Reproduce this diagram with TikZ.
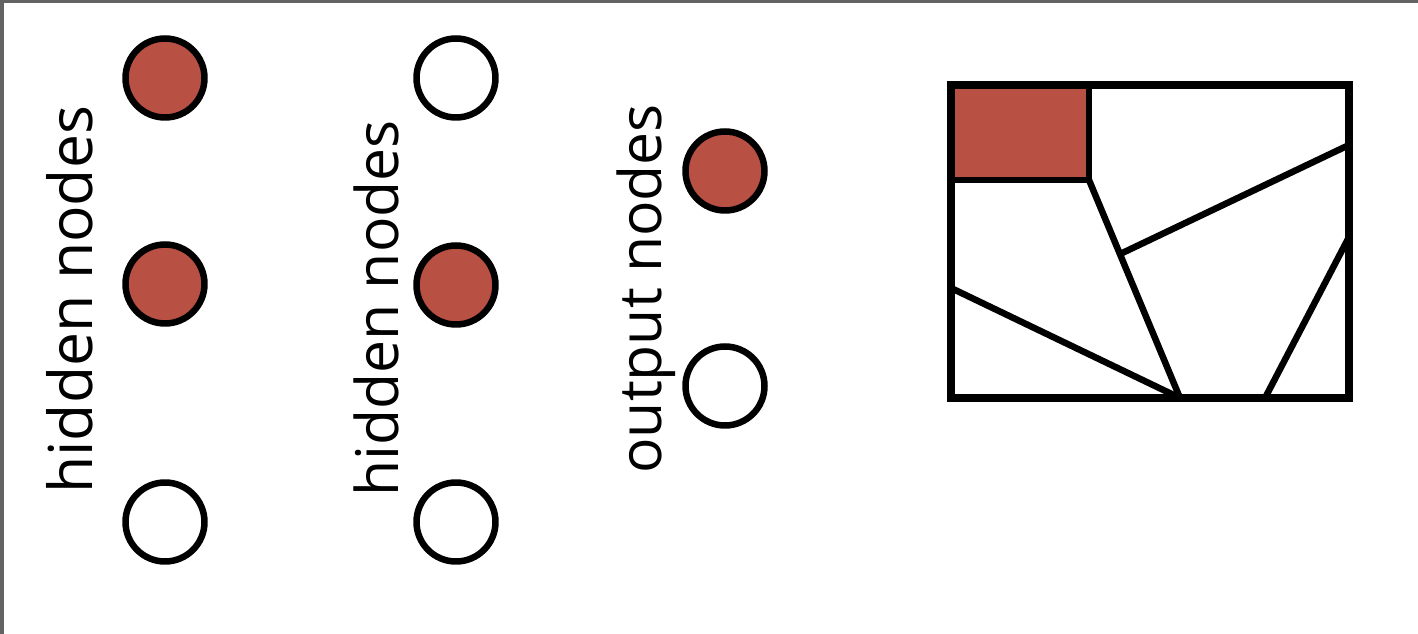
\documentclass[tikz,border=0pt]{standalone}
\usepackage{fontspec}
\setmainfont{Open Sans}
\usetikzlibrary{calc}
\definecolor{nodered}{RGB}{185,80,68}
\definecolor{framegray}{RGB}{99,99,99}
\tikzset{
  unit/.style={circle,draw,line width=0.13cm,minimum size=1.58cm,inner sep=0pt},
  active/.style={unit,fill=nodered},
  layerlabel/.style={rotate=90,anchor=base west,inner sep=0pt},
  cut/.style={line width=0.13cm},
  border/.style={line width=0.15cm},
}

\begin{document}
\begin{tikzpicture}[x=0.02cm,y=-0.02cm]
                \useasboundingbox (0,0) rectangle (1418,634);
                \fill[framegray] (0,0) rectangle (1418,3);
                \fill[framegray] (0,0) rectangle (4,634);
                % first hidden layer
                \node[active] (hA1) at (165,78) {};
                \node[active] (hA2) at (165,284) {};
                \node[unit] (hA3) at (165,522) {};
                \node[layerlabel,font=\fontsize{34.5}{40}\selectfont] (hAlabel) at (92,494) {hidden nodes};
                % second hidden layer
                \node[unit] (hB1) at (456,78) {};
                \node[active] (hB2) at (456,285) {};
                \node[unit] (hB3) at (456,522) {};
                \node[layerlabel,font=\fontsize{33.5}{40}\selectfont] (hBlabel) at (398,497) {hidden nodes};
                % output layer
                \node[active] (out1) at (725,171) {};
                \node[unit] (out2) at (725,386) {};
                \node[layerlabel,font=\fontsize{33.5}{40}\selectfont] (outlabel) at (661,474) {output nodes};
                % partition
                \coordinate (nw) at (951,85);
                \coordinate (se) at (1349,398);
                \coordinate (corner) at (1089,180);
                \coordinate (foot) at (1180,398);
                \fill[nodered] (nw) rectangle (corner);
                \draw[cut] (951,180) -- (corner) -- (1089,85);
                \draw[cut] (corner) -- (foot);
                \draw[cut] ($(corner)!0.34!(foot)$) -- (1349,145);
                \draw[cut] (951,288) -- (foot);
                \draw[cut] (1265,398) -- (1349,237);
                \draw[border] (nw) rectangle (se);
            \end{tikzpicture}
\end{document}
